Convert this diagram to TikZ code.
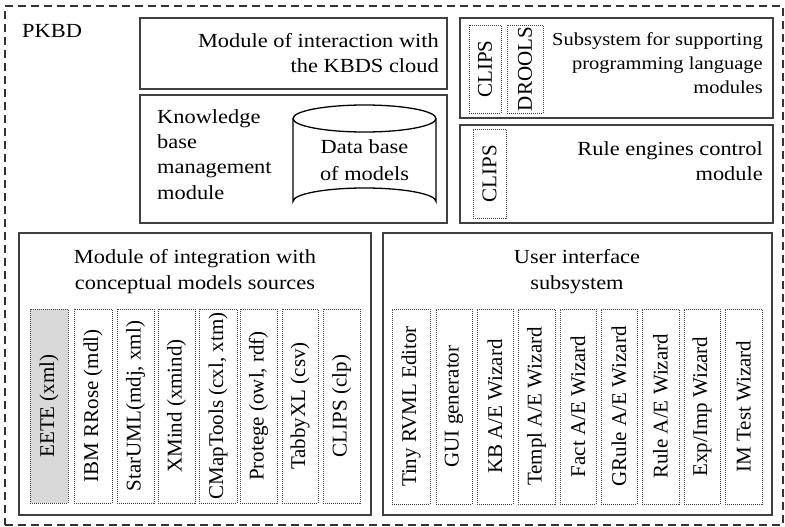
\documentclass[tikz,border=0pt]{standalone}
\usepackage{fontspec}
\setmainfont[FakeStretch=1.12]{Liberation Serif}
\newfontfamily\rotfont{Liberation Serif}
\usetikzlibrary{fit}
\begin{document}
\begin{tikzpicture}[x=1pt,y=-1pt,
  box/.style={draw=black!75, line width=1.6pt, inner sep=0pt},
  strip/.style={draw=black!75, line width=0.9pt, dash pattern=on 1pt off 1pt, inner sep=0pt},
  lbl/.style={inner sep=0pt, font=\fontsize{20}{25}\selectfont},
  vlbl/.style={inner sep=0pt, rotate=90, font=\rotfont\fontsize{21}{24}\selectfont},
  cyl/.style={draw=black, line width=1.3pt}]
\useasboundingbox (0,0) rectangle (785,527);
% outer dashed frame
\node[draw=black!80, line width=1.3pt, dash pattern=on 8pt off 5pt, inner sep=0pt, fit={(5,6) (783,525)}] (pkbd) {};
\node[lbl, anchor=base west] (pkbdl) at (22,38) {PKBD};

% module of interaction
\node[box, fit={(140,18) (447,89)}] (mi) {};
\node[lbl, anchor=north east, align=right] (mil) at (439,33.5) {Module of interaction with\\the KBDS cloud};

% knowledge base management
\node[box, fit={(140,95) (447,223)}] (kb) {};
\node[lbl, anchor=north west, align=left, font=\fontsize{20}{25.3}\selectfont] (kbl) at (157,109.3) {Knowledge\\base\\management\\module};
% cylinder
\draw[cyl] (364.5,118.5) ellipse [x radius=71.5, y radius=13.5];
\draw[cyl] (293,118.5) -- (293,201.5) arc[start angle=180, end angle=360, x radius=71.5, y radius=13.5] -- (436,118.5);
\node[lbl, anchor=north, align=center, font=\fontsize{20}{27}\selectfont] (db) at (364.5,139.3) {Data base\\of models};

% subsystem for supporting PL modules
\node[box, fit={(460,18) (773,118)}] (sub) {};
\node[strip, fit={(469,25) (501,113)}] (subc) {};
\node[vlbl] at (subc.center) {CLIPS};
\node[strip, fit={(507,25) (543,113)}] (subd) {};
\node[vlbl] at (subd.center) {DROOLS};
\node[lbl, anchor=north east, align=right, font=\fontsize{18.3}{24}\selectfont] (subl) at (763,32.5) {Subsystem for supporting\\programming language\\modules};

% rule engines control
\node[box, fit={(460,125) (773,223)}] (re) {};
\node[strip, fit={(473,129) (506,218)}] (rec) {};
\node[vlbl] at (rec.center) {CLIPS};
\node[lbl, anchor=north east, align=right] (rel) at (763,141.3) {Rule engines control\\module};

% integration module
\node[box, fit={(19,233) (371,515)}] (im) {};
\node[lbl, anchor=north, align=center, font=\fontsize{20}{26}\selectfont] (iml) at (195,249) {Module of integration with\\conceptual models sources};
\node[strip, fill=black!15, fit={(30,309) (68,503)}] (s1) {};
\node[vlbl] at (s1.center) {EETE (xml)};
\node[strip, fit={(74,309) (112,503)}] (s2) {};
\node[vlbl] at (s2.center) {IBM RRose (mdl)};
\node[strip, fit={(117,309) (154,503)}] (s3) {};
\node[vlbl] at (s3.center) {StarUML(mdj, xml)};
\node[strip, fit={(158,309) (195,503)}] (s4) {};
\node[vlbl] at (s4.center) {XMind (xmind)};
\node[strip, fit={(199,309) (237,503)}] (s5) {};
\node[vlbl] at (s5.center) {CMapTools (cxl, xtm)};
\node[strip, fit={(240,309) (277,503)}] (s6) {};
\node[vlbl] at (s6.center) {Protege (owl, rdf)};
\node[strip, fit={(282,309) (318,503)}] (s7) {};
\node[vlbl] at (s7.center) {TabbyXL (csv)};
\node[strip, fit={(323,309) (360,503)}] (s8) {};
\node[vlbl] at (s8.center) {CLIPS (clp)};

% user interface subsystem
\node[box, fit={(383,233) (772,515)}] (ui) {};
\node[lbl, anchor=north, align=center, font=\fontsize{20}{26}\selectfont] (uil) at (577,249) {User interface\\subsystem};
\node[strip, fit={(392,309) (430,504)}] (u1) {};
\node[vlbl] at (u1.center) {Tiny RVML Editor};
\node[strip, fit={(436,309) (472,504)}] (u2) {};
\node[vlbl] at (u2.center) {GUI generator};
\node[strip, fit={(477,309) (513,504)}] (u3) {};
\node[vlbl] at (u3.center) {KB A/E Wizard};
\node[strip, fit={(518,309) (555,504)}] (u4) {};
\node[vlbl] at (u4.center) {Templ A/E Wizard};
\node[strip, fit={(560,309) (596,504)}] (u5) {};
\node[vlbl] at (u5.center) {Fact A/E Wizard};
\node[strip, fit={(601,309) (637,504)}] (u6) {};
\node[vlbl] at (u6.center) {GRule A/E Wizard};
\node[strip, fit={(642,309) (679,504)}] (u7) {};
\node[vlbl] at (u7.center) {Rule A/E Wizard};
\node[strip, fit={(684,309) (720,504)}] (u8) {};
\node[vlbl] at (u8.center) {Exp/Imp Wizard};
\node[strip, fit={(725,309) (762,504)}] (u9) {};
\node[vlbl] at (u9.center) {IM Test Wizard};
\end{tikzpicture}
\end{document}
